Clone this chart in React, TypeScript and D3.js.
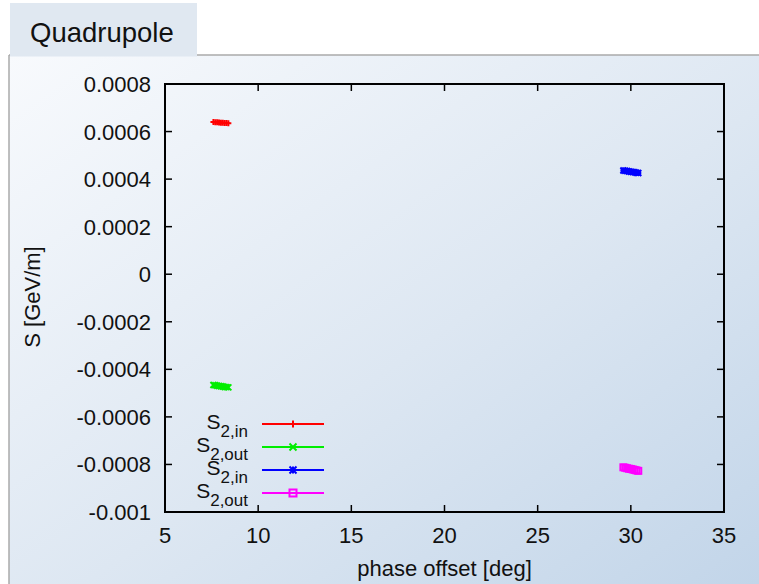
import React from "react";
import * as d3 from "d3";

// Phase offset [deg] and strength S [GeV/m] for each measured cluster
const redX = [7.6, 7.7, 7.8, 7.9, 8.0, 8.1, 8.2, 8.3, 8.4];
const redY = [0.00064, 0.000639, 0.000639, 0.000638, 0.000637, 0.000637, 0.000636, 0.000636, 0.000635];
const greenX = [7.6, 7.7, 7.8, 7.9, 8.0, 8.1, 8.2, 8.3, 8.4];
const greenY = [-0.000466, -0.000467, -0.000469, -0.00047, -0.000471, -0.000472, -0.000474, -0.000475, -0.000476];
const blueX = [29.6, 29.7, 29.8, 29.9, 30.0, 30.1, 30.2, 30.3, 30.4];
const blueY = [0.000436, 0.000435, 0.000434, 0.000432, 0.000431, 0.00043, 0.000429, 0.000427, 0.000426];
const magentaX = [29.6, 29.7, 29.8, 29.9, 30.0, 30.1, 30.2, 30.3, 30.4];
const magentaY = [-0.000812, -0.000814, -0.000816, -0.000818, -0.000819, -0.000821, -0.000823, -0.000825, -0.000827];

const xTicks = [5, 10, 15, 20, 25, 30, 35];
const yTicks = [-0.001, -0.0008, -0.0006, -0.0004, -0.0002, 0, 0.0002, 0.0004, 0.0006, 0.0008];
const yTickLabels = ["-0.001", "-0.0008", "-0.0006", "-0.0004", "-0.0002", "0", "0.0002", "0.0004", "0.0006", "0.0008"];

type Marker = "plus" | "cross" | "star" | "square";
const series = [
  { name: "2,in", color: "#ff0000", marker: "plus" as Marker, xs: redX, ys: redY },
  { name: "2,out", color: "#00ee00", marker: "cross" as Marker, xs: greenX, ys: greenY },
  { name: "2,in", color: "#0000ff", marker: "star" as Marker, xs: blueX, ys: blueY },
  { name: "2,out", color: "#ff00ff", marker: "square" as Marker, xs: magentaX, ys: magentaY },
];

const FONT = "'Liberation Sans', Arial, Helvetica, sans-serif";

function MarkerShape({ kind, cx, cy, s, color }: { kind: Marker; cx: number; cy: number; s: number; color: string }) {
  const sw = 2;
  if (kind === "plus")
    return (
      <path d={`M${cx - s},${cy}H${cx + s}M${cx},${cy - s}V${cy + s}`} stroke={color} strokeWidth={sw} fill="none" />
    );
  if (kind === "cross")
    return (
      <path
        d={`M${cx - s},${cy - s}L${cx + s},${cy + s}M${cx - s},${cy + s}L${cx + s},${cy - s}`}
        stroke={color}
        strokeWidth={sw}
        fill="none"
      />
    );
  if (kind === "star")
    return (
      <path
        d={`M${cx - s},${cy}H${cx + s}M${cx},${cy - s}V${cy + s}M${cx - s},${cy - s}L${cx + s},${cy + s}M${cx - s},${cy + s}L${cx + s},${cy - s}`}
        stroke={color}
        strokeWidth={sw}
        fill="none"
      />
    );
  return <rect x={cx - s} y={cy - s} width={2 * s} height={2 * s} stroke={color} strokeWidth={sw} fill="none" />;
}

export default function App() {
  const W = 759;
  const H = 584;
  const left = 165;
  const right = 724;
  const top = 84;
  const bottom = 512;
  const x = d3.scaleLinear().domain([5, 35]).range([left, right]);
  const y = d3.scaleLinear().domain([-0.001, 0.0008]).range([bottom, top]);
  const tick = 7;

  const legendRows = [424, 447, 470, 493];

  return (
    <svg width={W} height={H} style={{ position: "absolute", left: 0, top: 0 }} fontFamily={FONT}>
      <defs>
        <linearGradient id="panelBg" x1="0" y1="0" x2="1" y2="1">
          <stop offset="0%" stopColor="#f8fafd" />
          <stop offset="55%" stopColor="#dde7f2" />
          <stop offset="100%" stopColor="#c2d5e9" />
        </linearGradient>
      </defs>
      <rect x={0} y={0} width={W} height={H} fill="#ffffff" />
      {/* panel */}
      <rect x={9} y={55} width={W - 9} height={H - 55} fill="url(#panelBg)" />
      <line x1={9} y1={55} x2={W} y2={55} stroke="#aaaaaa" strokeWidth={1.5} />
      <line x1={9} y1={55} x2={9} y2={H} stroke="#aaaaaa" strokeWidth={1.5} />
      {/* tab */}
      <rect x={10} y={3} width={187} height={53.5} fill="#e0e8f1" />
      <text x={30} y={41.5} fontSize={27.5} fill="#111">
        Quadrupole
      </text>

      {/* axes frame */}
      <rect x={left} y={top} width={right - left} height={bottom - top} fill="none" stroke="#000" strokeWidth={2} />
      {xTicks.map((t) => (
        <g key={"x" + t}>
          <line x1={x(t)} x2={x(t)} y1={bottom} y2={bottom - tick} stroke="#000" strokeWidth={1.5} />
          <line x1={x(t)} x2={x(t)} y1={top} y2={top + tick} stroke="#000" strokeWidth={1.5} />
          <text x={x(t)} y={543} fontSize={22} textAnchor="middle" fill="#111">
            {t}
          </text>
        </g>
      ))}
      {yTicks.map((t, i) => (
        <g key={"y" + i}>
          <line x1={left} x2={left + tick} y1={y(t)} y2={y(t)} stroke="#000" strokeWidth={1.5} />
          <line x1={right} x2={right - tick} y1={y(t)} y2={y(t)} stroke="#000" strokeWidth={1.5} />
          <text x={151} y={y(t) + 8} fontSize={22} textAnchor="end" fill="#111">
            {yTickLabels[i]}
          </text>
        </g>
      ))}
      <text x={(left + right) / 2} y={576} fontSize={22} textAnchor="middle" fill="#111">
        phase offset [deg]
      </text>
      <text transform={`translate(40,297) rotate(-90)`} fontSize={22} textAnchor="middle" fill="#111">
        S [GeV/m]
      </text>

      {/* data clusters */}
      {series.map((s, si) => (
        <g key={"s" + si}>
          {s.xs.map((xv, i) => (
            <MarkerShape key={i} kind={s.marker} cx={x(xv)} cy={y(s.ys[i])} s={3} color={s.color} />
          ))}
        </g>
      ))}

      {/* legend */}
      {series.map((s, i) => (
        <g key={"l" + i}>
          <text x={248} y={legendRows[i] + 5} fontSize={21} textAnchor="end" fill="#111">
            S
            <tspan fontSize={17} dy={8}>
              {s.name}
            </tspan>
          </text>
          <line x1={262} x2={324} y1={legendRows[i]} y2={legendRows[i]} stroke={s.color} strokeWidth={2} />
          <MarkerShape kind={s.marker} cx={293} cy={legendRows[i]} s={3.5} color={s.color} />
        </g>
      ))}
    </svg>
  );
}
